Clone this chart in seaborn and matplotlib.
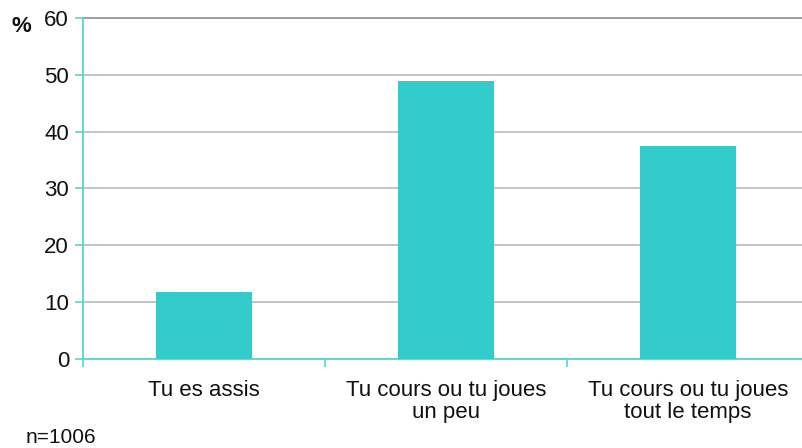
import numpy as np
import pandas as pd
import matplotlib
matplotlib.use("Agg")
import matplotlib.pyplot as plt
import seaborn as sb

categories = ["Tu es assis", "Tu cours ou tu joues\nun peu", "Tu cours ou tu joues\ntout le temps"]
values = [11.8, 49.0, 37.4]
y_ticks = [0, 10, 20, 30, 40, 50, 60]

sb.set_style("white")
plt.rcParams['font.family'] = ['Liberation Sans', 'DejaVu Sans']

data_set = pd.DataFrame({'cat': categories, 'pct': values})

fig = plt.figure(figsize=(8.03, 4.48), dpi=100)
ax = fig.add_axes([83 / 803, 1 - 359 / 448, 726 / 803, 341 / 448])

sb.barplot(data=data_set, x='cat', y='pct', color='#33CCCC', saturation=1,
           width=0.4, linewidth=0, ax=ax, zorder=3)

ax.set_ylim(0, 60)
ax.set_xlim(-0.5, 2.5)
ax.set_yticks(y_ticks)
ax.yaxis.grid(True, color='#BEBEBE', linewidth=1.3, zorder=0)
ax.set_axisbelow(True)
# top line is a bit darker
ax.axhline(60, color='#999999', linewidth=1.3, zorder=1, clip_on=False)

# x ticks sit at category boundaries
ax.set_xticks([-0.5, 0.5, 1.5, 2.5])
ax.set_xticklabels([])
ax.set_xticks([0, 1, 2], minor=True)
ax.set_xticklabels(categories, minor=True, fontsize=16, linespacing=1.05)
ax.tick_params(axis='x', which='minor', bottom=False, length=0, pad=15, labelcolor='#111111')
ax.tick_params(axis='x', which='major', bottom=True, direction='out', length=6,
               color='#55D4D4', width=1.2)
ax.tick_params(axis='y', left=True, direction='out', length=6, color='#55D4D4',
               width=1.2, labelsize=16, pad=4, labelcolor='#111111')

for s in ['top', 'right']:
    ax.spines[s].set_visible(False)
for s in ['left', 'bottom']:
    ax.spines[s].set_color('#55D4D4')
    ax.spines[s].set_linewidth(1.3)

ax.set_xlabel('')
ax.set_ylabel('')

fig.text(12 / 803, 1 - 26 / 448, '%', fontsize=16, fontweight='bold', va='center', ha='left', color='#111111')
fig.text(26 / 803, 1 - 437 / 448, 'n=1006', fontsize=15, va='center', ha='left', color='#111111')

fig.savefig('out.png', dpi=100)
